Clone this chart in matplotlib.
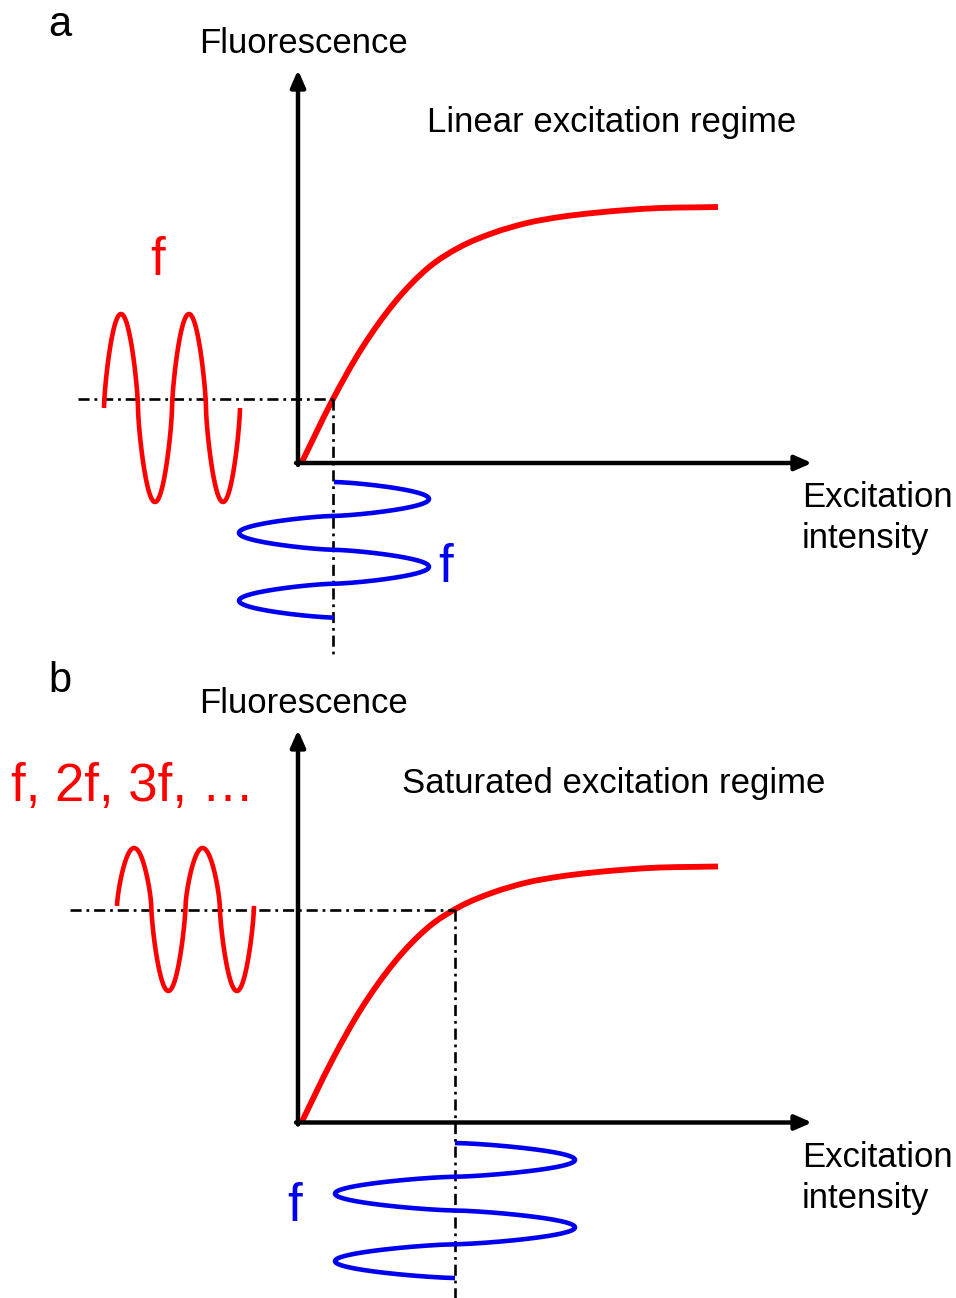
import numpy as np
import matplotlib
matplotlib.use("Agg")
import matplotlib.pyplot as plt
from matplotlib.path import Path
from matplotlib.patches import PathPatch

plt.rcParams['font.family'] = ['Liberation Sans', 'DejaVu Sans']
plt.rcParams['lines.scale_dashes'] = False

# ---------------- data ----------------
# saturation curve: excitation vs fluorescence (pixel units from the axes origin)
curve_excitation = [4, 34, 64, 97, 130, 162, 195, 229, 262, 295, 329, 362, 395, 420]
curve_fluorescence = [1, 62, 115, 161, 195, 216, 230, 240, 246, 250, 253, 255, 255.6, 256]

# operating point (excitation) of each panel
operating_excitation = {"a": 35, "b": 157}

# modulation waves: amplitude(s), period, number of cycles
fluor_wave = {"a": dict(amp_up=94, amp_down=94, period=68, cycles=2),
              "b": dict(amp_up=58, amp_down=85, period=68.5, cycles=2)}
excit_wave = {"a": dict(amp=95, period=67.8, cycles=2),
              "b": dict(amp=120, period=67.5, cycles=2)}

panel_letters = ["a", "b"]
regime_labels = ["Linear excitation regime", "Saturated excitation regime"]
fluor_freq_labels = ["f", "f, 2f, 3f, \u2026"]
excit_freq_label = "f"
y_label = "Fluorescence"
x_label_lines = ["Excitation", "intensity"]

# ---------------- layout (pixels) ----------------
W, H = 956, 1298
fig = plt.figure(figsize=(W / 100, H / 100), dpi=100)
ax = fig.add_axes([0, 0, 1, 1])
ax.set_xlim(0, W)
ax.set_ylim(H, 0)
ax.axis('off')

layout = {
    "a": dict(origin=(298, 463), ytip=70, xtip=812, fwave_x0=104, fwave_yc=408,
              ewave_xc=334, ewave_y0=482, hdash_x0=78, vdash_y1=657,
              letter=(48, 36), ylab=(199, 53), regime=(427, 132), xlab=(802, 507),
              flab=(150, 275), elab=(438, 582)),
    "b": dict(origin=(298, 1122.5), ytip=730, xtip=812, fwave_x0=117, fwave_yc=906,
              ewave_xc=455, ewave_y0=1143, hdash_x0=70, vdash_y1=1298,
              letter=(48, 692), ylab=(199, 713), regime=(402, 793), xlab=(802, 1167),
              flab=(11, 801), elab=(287, 1221)),
}

RED = '#ff0000'
BLUE = '#0000f0'
dash = (0, (8, 3.5, 2, 3.5))
fs = 25


def smooth_path(xs, ys):
    """Catmull-Rom through the read points, handed to matplotlib as cubic Bezier segments."""
    P = np.column_stack([xs, ys]).astype(float)
    ext = np.vstack([P[0], P, P[-1]])
    verts = [P[0]]
    codes = [Path.MOVETO]
    for i in range(1, len(ext) - 2):
        p0, p1, p2, p3 = ext[i - 1], ext[i], ext[i + 1], ext[i + 2]
        verts += [p1 + (p2 - p0) / 6, p2 - (p3 - p1) / 6, p2]
        codes += [Path.CURVE4] * 3
    return Path(verts, codes)


def wave_shape(t):
    s = np.sin(2 * np.pi * t)
    return np.sign(s) * np.abs(s) ** 0.7


for i, p in enumerate(panel_letters):
    L = layout[p]
    ox, oy = L["origin"]

    # axes arrows
    arrow = dict(arrowstyle='-|>,head_length=0.5,head_width=0.22', lw=3.2, color='k',
                 mutation_scale=20, shrinkA=0, shrinkB=0)
    ax.annotate('', xy=(ox, L["ytip"]), xytext=(ox, oy + 2), arrowprops=arrow)
    ax.annotate('', xy=(L["xtip"], oy), xytext=(ox - 2, oy), arrowprops=arrow)

    # saturation curve
    cx = ox + np.asarray(curve_excitation, float)
    cy = oy - np.asarray(curve_fluorescence, float)
    ax.add_patch(PathPatch(smooth_path(cx, cy), facecolor='none', edgecolor=RED,
                           lw=4.2, capstyle='butt', joinstyle='round'))

    # operating point and dash-dot guides
    ex = operating_excitation[p]
    fl = np.interp(ex, curve_excitation, curve_fluorescence)
    px, py = ox + ex, oy - fl
    ax.plot([L["hdash_x0"], px], [py, py], color='k', lw=1.9, linestyle=dash)
    ax.plot([px, px], [py, L["vdash_y1"]], color='k', lw=1.9, linestyle=dash)

    # fluorescence wave (horizontal time axis)
    fw = fluor_wave[p]
    t = np.linspace(0, fw["cycles"], 1200)
    s = wave_shape(t)
    fy = L["fwave_yc"] - np.where(s > 0, fw["amp_up"], fw["amp_down"]) * s
    fx = L["fwave_x0"] + t * fw["period"]
    ax.plot(fx, fy, color=RED, lw=3.3, solid_capstyle='butt')

    # excitation wave (vertical time axis)
    ew = excit_wave[p]
    t = np.linspace(0, ew["cycles"], 1200)
    exw = L["ewave_xc"] + ew["amp"] * wave_shape(t)
    eyw = L["ewave_y0"] + t * ew["period"]
    ax.plot(exw, eyw, color=BLUE, lw=3.3, solid_capstyle='butt')

    # texts
    ax.text(*L["letter"], p, fontsize=30, ha='left', va='baseline')
    ax.text(*L["ylab"], y_label, fontsize=fs, ha='left', va='baseline')
    ax.text(*L["regime"], regime_labels[i], fontsize=fs, ha='left', va='baseline')
    for k, line in enumerate(x_label_lines):
        ax.text(L["xlab"][0], L["xlab"][1] + 41 * k, line, fontsize=fs, ha='left', va='baseline')
    ax.text(*L["flab"], fluor_freq_labels[i], fontsize=38, color=RED, ha='left', va='baseline')
    ax.text(*L["elab"], excit_freq_label, fontsize=38, color=BLUE, ha='left', va='baseline')

fig.savefig("out.png", dpi=100)
